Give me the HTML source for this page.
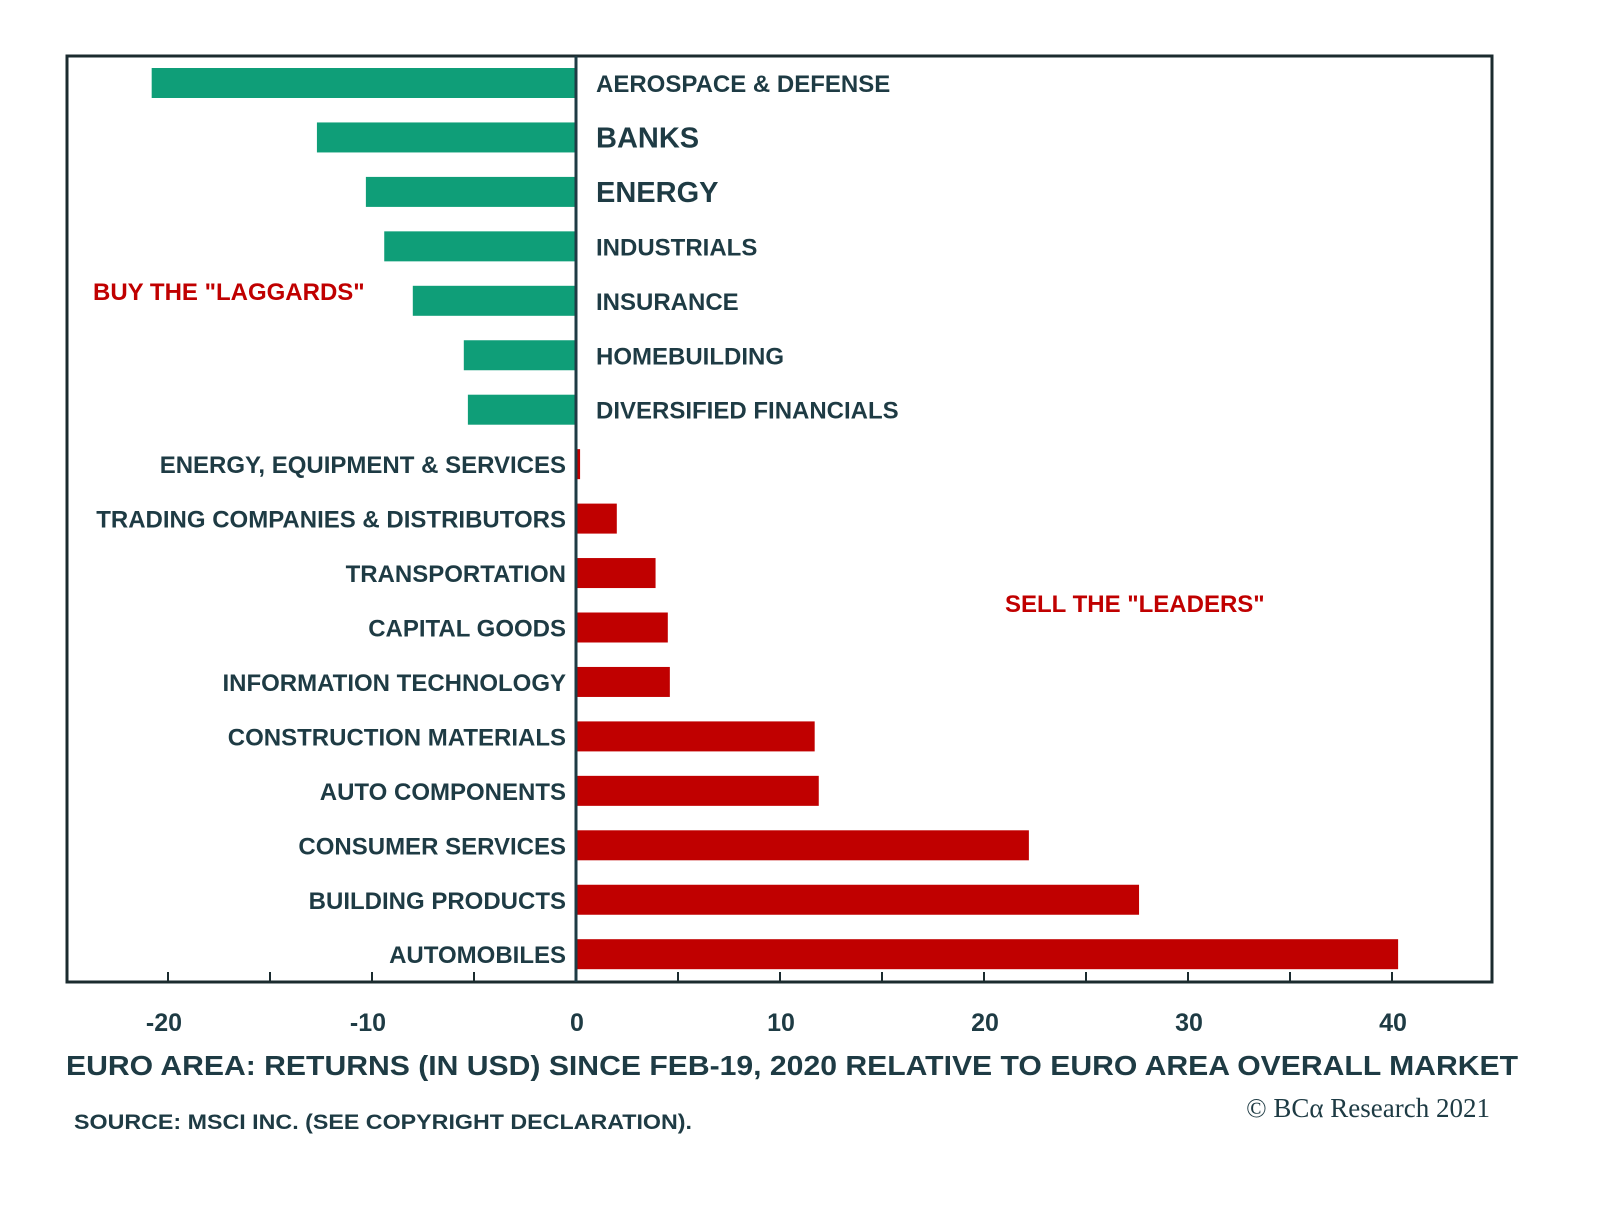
<!DOCTYPE html>
<html><head><meta charset="utf-8"><style>
html,body{margin:0;padding:0;background:#fff;}
svg{display:block;font-family:"Liberation Sans",sans-serif;font-weight:bold;}
</style></head><body>
<svg id="chart" width="1600" height="1218" viewBox="0 0 1600 1218">
<rect x="67" y="56" width="1425" height="926" fill="none" stroke="#1b2b2f" stroke-width="3"/>
<g id="bars"></g>
<g id="labels"></g>
<g id="ticks"></g>
<line id="zero" x1="576" y1="56" x2="576" y2="982" stroke="#1e3b44" stroke-width="3"/>
<text x="93" y="300" fill="#c00000" font-size="24">BUY THE "LAGGARDS"</text>
<text x="1005" y="612" fill="#c00000" font-size="24">SELL THE "LEADERS"</text>
<text x="66" y="1075" fill="#1e3b44" font-size="28" textLength="1452" lengthAdjust="spacingAndGlyphs">EURO AREA:  RETURNS (IN USD) SINCE FEB-19, 2020 RELATIVE TO EURO AREA OVERALL MARKET</text>
<text x="74" y="1129" fill="#1e3b44" font-size="21" textLength="618" lengthAdjust="spacingAndGlyphs">SOURCE: MSCI INC. (SEE COPYRIGHT DECLARATION).</text>
<text x="1490" y="1117" text-anchor="end" fill="#1e3b44" font-size="27" font-weight="normal" font-family="Liberation Serif, serif">© BCα Research 2021</text>
</svg>
<script>
const categories=["AEROSPACE & DEFENSE","BANKS","ENERGY","INDUSTRIALS","INSURANCE","HOMEBUILDING","DIVERSIFIED FINANCIALS","ENERGY, EQUIPMENT & SERVICES","TRADING COMPANIES & DISTRIBUTORS","TRANSPORTATION","CAPITAL GOODS","INFORMATION TECHNOLOGY","CONSTRUCTION MATERIALS","AUTO COMPONENTS","CONSUMER SERVICES","BUILDING PRODUCTS","AUTOMOBILES"];
const values=[-20.8,-12.7,-10.3,-9.4,-8.0,-5.5,-5.3,0.2,2.0,3.9,4.5,4.6,11.7,11.9,22.2,27.6,40.3];
const tickValues=[-20,-10,0,10,20,30,40];
const minorTicks=[-20,-15,-10,-5,0,5,10,15,20,25,30,35,40];
const NS="http://www.w3.org/2000/svg";
const x0=576, pxPer=20.4;
function xs(v){return x0+v*pxPer;}
const top0=83, step=54.45, bh=30;
function ys(i){return top0+i*step;}
const bars=document.getElementById('bars'),labels=document.getElementById('labels'),ticks=document.getElementById('ticks');
categories.forEach((c,i)=>{
  const v=values[i];
  const r=document.createElementNS(NS,'rect');
  r.setAttribute('x',Math.min(xs(0),xs(v)));
  r.setAttribute('y',ys(i)-bh/2);
  r.setAttribute('width',Math.max(3,Math.abs(xs(v)-xs(0))));
  r.setAttribute('height',bh);
  r.setAttribute('fill',v<0?'#0f9e78':'#c00000');
  
  
  bars.appendChild(r);
  const t=document.createElementNS(NS,'text');
  const big=(c==="BANKS"||c==="ENERGY");
  t.setAttribute('font-size',big?29:24);
  t.setAttribute('fill','#1e3b44');
  t.setAttribute('y',ys(i)+(big?10:9));
  if(v<0){t.setAttribute('x',596);}else{t.setAttribute('x',566);t.setAttribute('text-anchor','end');}
  t.textContent=c;
  
  
  labels.appendChild(t);
});
minorTicks.forEach(v=>{
  const l=document.createElementNS(NS,'line');
  l.setAttribute('x1',xs(v));l.setAttribute('x2',xs(v));
  l.setAttribute('y1',972);l.setAttribute('y2',982);
  l.setAttribute('stroke','#1b2b2f');l.setAttribute('stroke-width',2);
  
  
  ticks.appendChild(l);
});
tickValues.forEach(v=>{
  const t=document.createElementNS(NS,'text');
  t.setAttribute('x',xs(v)+(v<0?-4:1));t.setAttribute('y',1031);
  t.setAttribute('text-anchor','middle');t.setAttribute('font-size',25);
  t.setAttribute('fill','#1e3b44');
  t.textContent=v;
  
  
  ticks.appendChild(t);
});
</script>
</body></html>
